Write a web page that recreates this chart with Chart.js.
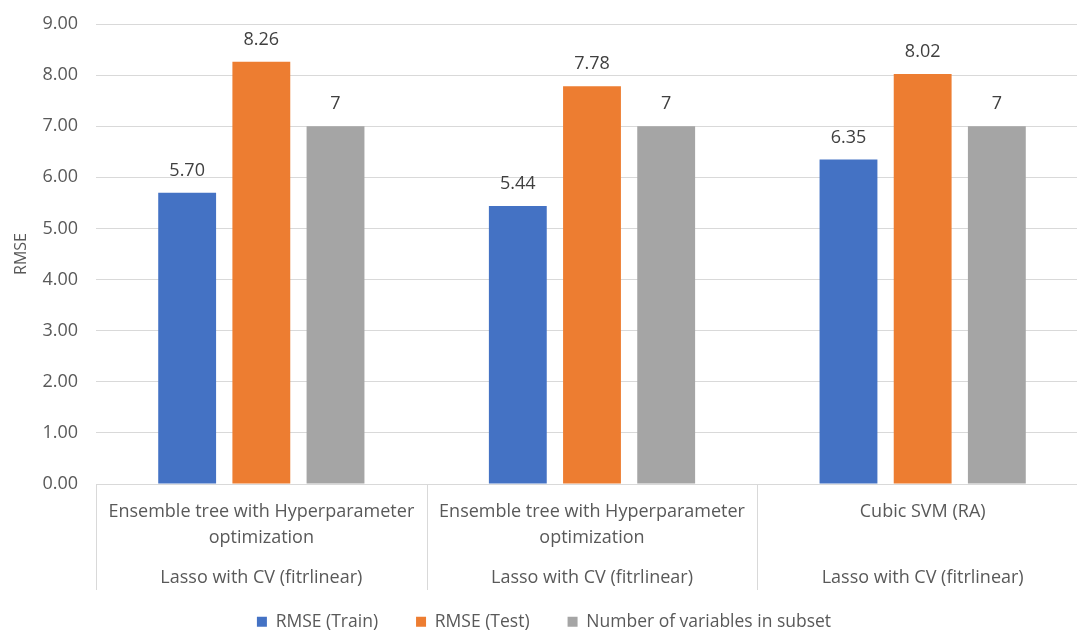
<!DOCTYPE html>
<html>
<head>
<meta charset="utf-8">
<script src="https://cdn.jsdelivr.net/npm/chart.js@4/dist/chart.umd.min.js"></script>
<style>
  html, body { margin: 0; padding: 0; background: #fff; overflow: hidden; }
  #wrap { width: 1090px; height: 632px; position: relative; }
</style>
</head>
<body>
<div id="wrap"><canvas id="rmseChart"></canvas></div>
<script>
// model names (first level) and feature selection (second level)
const models = [
  ['Ensemble tree with Hyperparameter', 'optimization'],
  ['Ensemble tree with Hyperparameter', 'optimization'],
  ['Cubic SVM (RA)']
];
const selection = ['Lasso with CV (fitrlinear)', 'Lasso with CV (fitrlinear)', 'Lasso with CV (fitrlinear)'];

const rmseTrain = [5.70, 5.44, 6.35];
const rmseTest = [8.26, 7.78, 8.02];
const numVars = [7, 7, 7];

const yTicks = [0, 1, 2, 3, 4, 5, 6, 7, 8, 9];

const FONT = '"Open Sans", Lato, sans-serif';
const TEXT = '#595959';
const GRID = '#d9d9d9';

// value labels above each bar
const barValues = {
  id: 'barValues',
  afterDatasetsDraw(chart) {
    const ctx = chart.ctx;
    ctx.save();
    ctx.font = '18px ' + FONT;
    ctx.fillStyle = '#404040';
    ctx.textAlign = 'center';
    ctx.textBaseline = 'middle';
    chart.data.datasets.forEach((ds, di) => {
      chart.getDatasetMeta(di).data.forEach((bar, i) => {
        const v = ds.data[i];
        const txt = di === 2 ? String(v) : v.toFixed(2);
        ctx.fillText(txt, bar.x, bar.y - 22);
      });
    });
    ctx.restore();
  }
};

// category separators and the second label row
const groupAxis = {
  id: 'groupAxis',
  afterDraw(chart) {
    const x = chart.scales.x;
    const ctx = chart.ctx;
    const top = x.top;
    ctx.save();
    ctx.strokeStyle = GRID;
    ctx.lineWidth = 1;
    for (let i = 0; i <= models.length; i++) {
      const px = Math.round(x.getPixelForValue(i - 0.5)) + 0.5;
      ctx.beginPath();
      ctx.moveTo(px, top);
      ctx.lineTo(px, top + 106);
      ctx.stroke();
    }
    ctx.font = '18px ' + FONT;
    ctx.fillStyle = TEXT;
    ctx.textAlign = 'center';
    ctx.textBaseline = 'middle';
    selection.forEach((s, i) => ctx.fillText(s, x.getPixelForValue(i), top + 94));
    ctx.restore();
  }
};

const ctx = document.getElementById('rmseChart').getContext('2d');

const rmseChart = new Chart(ctx, {
  type: 'bar',
  data: {
    labels: models,
    datasets: [
      { label: 'RMSE (Train)', data: rmseTrain, backgroundColor: '#4472C4' },
      { label: 'RMSE (Test)', data: rmseTest, backgroundColor: '#ED7D31' },
      { label: 'Number of variables in subset', data: numVars, backgroundColor: '#A5A5A5' }
    ]
  },
  options: {
    responsive: true,
    maintainAspectRatio: false,
    animation: false,
    categoryPercentage: 0.673,
    barPercentage: 0.78,
    layout: { padding: { top: 24, right: 2, bottom: 0, left: 0 } },
    plugins: {
      legend: {
        position: 'bottom',
        maxHeight: 57,
        labels: {
          color: TEXT,
          font: { family: FONT, size: 17.5 },
          boxWidth: 10,
          boxHeight: 10,
          padding: 38
        }
      },
      tooltip: { enabled: false }
    },
    scales: {
      x: {
        grid: { display: false },
        border: { display: false },
        ticks: {
          color: TEXT,
          font: { family: FONT, size: 18, lineHeight: 1.45 },
          padding: 7,
          maxRotation: 0,
          autoSkip: false
        },
        afterFit(scale) { scale.height = 91; }
      },
      y: {
        min: 0,
        max: 9,
        afterBuildTicks(scale) { scale.ticks = yTicks.map(v => ({ value: v })); },
        grid: { color: GRID, drawTicks: false },
        border: { display: false },
        ticks: {
          color: TEXT,
          font: { family: FONT, size: 18 },
          padding: 18,
          callback: v => v.toFixed(2)
        },
        title: {
          display: true,
          text: 'RMSE',
          color: TEXT,
          font: { family: FONT, size: 16 },
          padding: { top: 12, bottom: 0 }
        },
        afterFit(scale) {
          scale.width = 96;
          scale.paddingTop = 10;
        }
      }
    }
  },
  plugins: [barValues, groupAxis]
});
</script>
</body>
</html>
